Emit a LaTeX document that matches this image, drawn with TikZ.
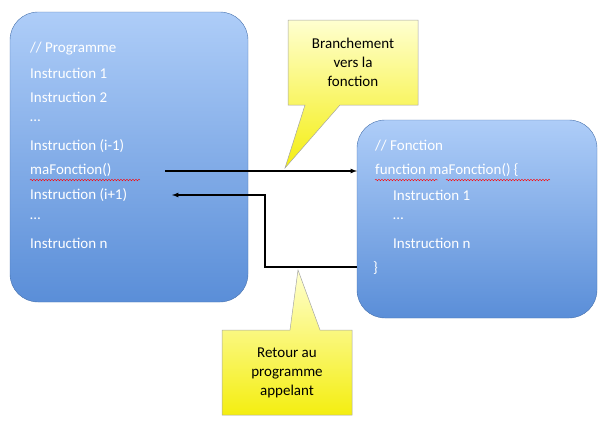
\documentclass[tikz,border=0pt]{standalone}
\usepackage{fontspec}
\setmainfont{Carlito}
\usetikzlibrary{decorations.pathmorphing}
\definecolor{btop}{HTML}{AECDF8}
\definecolor{bbot}{HTML}{5A8ED8}
\definecolor{ytop}{HTML}{FFFFD0}
\definecolor{ybot}{HTML}{F4EE10}
\begin{document}
\begin{tikzpicture}[x=1pt,y=-1pt,
  box/.style={rounded corners=28pt,top color=btop,bottom color=bbot,draw=bbot!80!black,line width=0.4pt},
  callout/.style={top color=ytop,bottom color=ybot,draw=gray!70,line width=0.5pt},
  txt/.style={text=white,font=\fontsize{15}{18}\selectfont,anchor=west,inner sep=0pt},
  ctxt/.style={font=\fontsize{15}{19}\selectfont,align=center,inner sep=0pt},
  arr/.style={line width=1.2pt,-latex},
  squig/.style={red,line width=0.4pt,decorate,decoration={snake,amplitude=0.8pt,segment length=3pt}}]
\useasboundingbox (0,0) rectangle (608,434);
\path[box] (10,12) rectangle (248,302);
\path[box] (357,120) rectangle (597,318);
\node[txt] (l1) at (30,49) {// Programme};
\node[txt] (l2) at (30,73) {Instruction 1};
\node[txt] (l3) at (30,97) {Instruction 2};
\node[txt] (l4) at (30,121) {…};
\node[txt] (l5) at (30,146) {Instruction (i-1)};
\node[txt] (l6) at (30,170) {maFonction()};
\node[txt] (l7) at (30,195) {Instruction (i+1)};
\node[txt] (l8) at (30,219) {…};
\node[txt] (l9) at (30,243) {Instruction n};
\node[txt] (r1) at (375,146) {// Fonction};
\node[txt] (r2) at (375,170) {function maFonction() \{};
\node[txt] (r3) at (393,195) {Instruction 1};
\node[txt] (r4) at (393,219) {…};
\node[txt] (r5) at (393,243) {Instruction n};
\node[txt] (r6) at (373,268) {\}};
\draw[squig] (30,180) -- (140,180);
\draw[squig] (375,180) -- (438,180);
\draw[squig] (446,180) -- (550,180);
\coordinate (a1) at (165,171);
\coordinate (a2) at (357,171);
\draw[arr] (a1) -- (a2);
\coordinate (b1) at (357,267);
\coordinate (b2) at (172,195);
\draw[arr] (b1) -- (265,267) -- (265,195) -- (b2);
\path[callout] (288,20) -- (418,20) -- (418,105) -- (340,105) -- (285,168) -- (305,105) -- (288,105) -- cycle;
\node[ctxt] (c1) at (353,62) {Branchement\\vers la\\fonction};
\path[callout] (222,330) -- (290,330) -- (298,270) -- (320,330) -- (352,330) -- (352,415) -- (222,415) -- cycle;
\node[ctxt] (c2) at (287,373) {Retour au\\programme\\appelant};
\end{tikzpicture}
\end{document}
